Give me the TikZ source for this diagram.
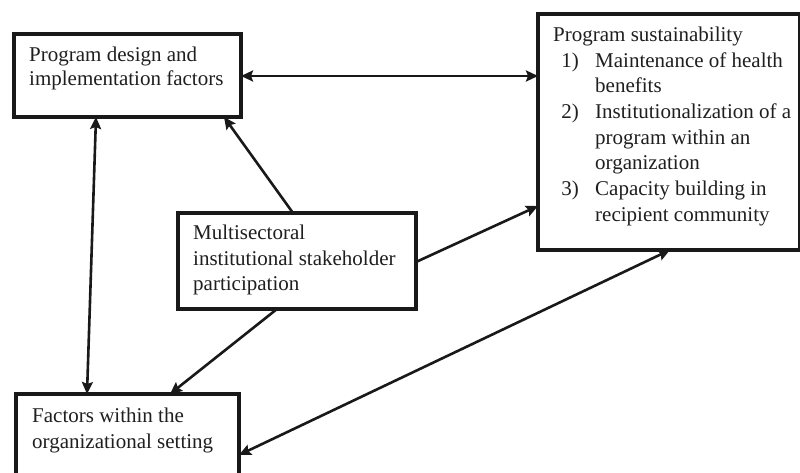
\documentclass[tikz,border=0pt]{standalone}
\usepackage{fontspec}
\setmainfont{Liberation Serif}
\usetikzlibrary{calc,arrows.meta}
\begin{document}
\begin{tikzpicture}[x=1pt,y=-1pt,
  box/.style={draw=black!90,line width=4pt,inner sep=0pt,outer sep=0pt,anchor=north west,rectangle},
  txt/.style={anchor=base west,inner sep=0pt,font=\fontsize{21}{25}\selectfont,text=black!88},
  num/.style={anchor=base east,inner sep=0pt,font=\fontsize{21}{25}\selectfont,text=black!88},
  tip/.style={Stealth[length=12pt,width=11pt,inset=2pt]},
  conn/.style={line width=2.6pt,draw=black!90,{Stealth[length=12pt,width=11pt,inset=2pt]}-{Stealth[length=12pt,width=11pt,inset=2pt]}},
  conna/.style={line width=2.6pt,draw=black!90,-{Stealth[length=12pt,width=11pt,inset=2pt]}}]
\useasboundingbox[fill=white] (0,0) rectangle (800,473);
% boxes
\node[box,minimum width=227pt,minimum height=83pt] (b1) at (14,34) {};
\node[box,minimum width=262pt,minimum height=236pt] (b2) at (538,14) {};
\node[box,minimum width=238pt,minimum height=96pt] (b3) at (178,213) {};
\node[box,minimum width=223pt,minimum height=90pt] (b4) at (16,394) {};
% texts
\node[txt] (t1a) at (29,62) {Program design and};
\node[txt] (t1b) at (29,86) {implementation factors};
\node[txt] (t2a) at (553,42) {Program sustainability};
\node[num] (n1) at (579,68) {1)};
\node[txt] (t2b) at (595,68) {Maintenance of health};
\node[txt] (t2c) at (595,93) {benefits};
\node[num] (n2) at (579,119) {2)};
\node[txt] (t2d) at (595,119) {Institutionalization of a};
\node[txt] (t2e) at (595,145) {program within an};
\node[txt] (t2f) at (595,170) {organization};
\node[num] (n3) at (579,196) {3)};
\node[txt] (t2g) at (595,196) {Capacity building in};
\node[txt] (t2h) at (595,222) {recipient community};
\node[txt] (t3a) at (193,240) {Multisectoral};
\node[txt] (t3b) at (193,265) {institutional stakeholder};
\node[txt] (t3c) at (193,290) {participation};
\node[txt] (t4a) at (32,422) {Factors within the};
\node[txt] (t4b) at (32,448) {organizational setting};
% connectors
\draw[conn] ($(b1.north east)+(0,42)$) -- ($(b2.north west)+(0,62)$);
\draw[conna] ($(b3.north west)+(115,0)$) -- ($(b1.south west)+(210,0)$);
\draw[conna] ($(b3.north east)+(0,49)$) -- ($(b2.north west)+(0,192)$);
\draw[conn] ($(b1.south west)+(82,0)$) -- ($(b4.north west)+(71,0)$);
\draw[conna] ($(b3.south west)+(99,0)$) -- ($(b4.north west)+(154,0)$);
\draw[conn] ($(b4.north east)+(0,61)$) -- ($(b2.south west)+(132,0)$);
\end{tikzpicture}
\end{document}
